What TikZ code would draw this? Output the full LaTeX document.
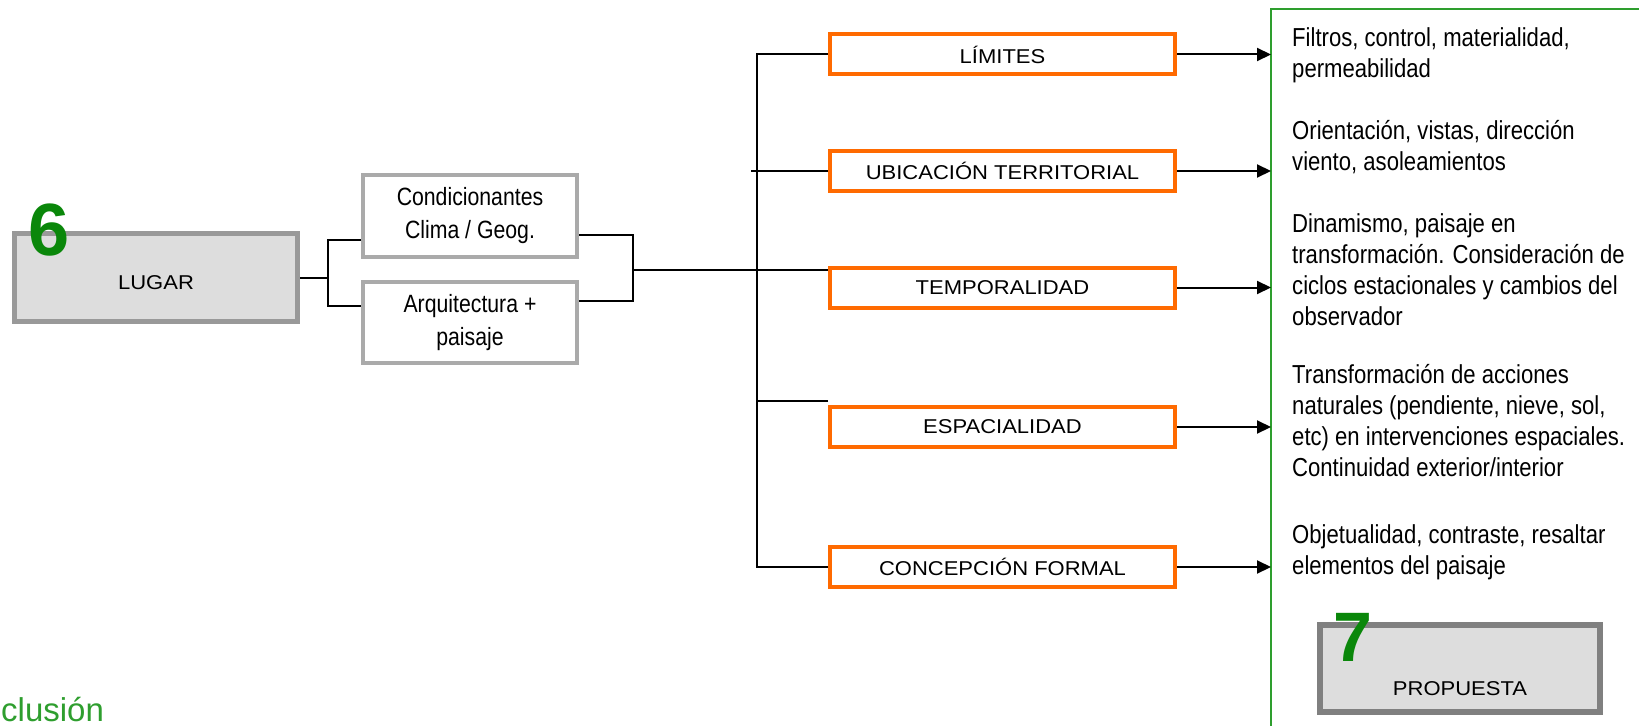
\documentclass[tikz,border=0pt]{standalone}
\usepackage{fontspec}
\setmainfont{Liberation Sans}
\newfontfamily\narrowfont[FakeStretch=0.85]{Liberation Sans}
\newfontfamily\widefont[FakeStretch=1.1]{Liberation Sans}
\usetikzlibrary{arrows.meta}

\definecolor{boxfill}{HTML}{DDDDDD}
\definecolor{lugarline}{HTML}{999999}
\definecolor{propline}{HTML}{808080}
\definecolor{condline}{HTML}{AAAAAA}
\definecolor{critorange}{HTML}{FF6A00}
\definecolor{numgreen}{HTML}{0A870A}
\definecolor{framegreen}{HTML}{2E9E2E}

\tikzset{
  conn/.style={line width=2bp},
  arr/.style={line width=2bp,-{Triangle[length=14bp,width=13bp]}},
  critbox/.style={draw=critorange,line width=4bp,fill=white,minimum width=345bp,minimum height=40bp,inner sep=0pt,font=\widefont\fontsize{20bp}{24bp}\selectfont},
  condbox/.style={draw=condline,line width=4bp,fill=white,minimum width=214bp,inner sep=0pt,align=center,font=\narrowfont\fontsize{25bp}{33bp}\selectfont},
  desc/.style={anchor=north west,inner sep=0pt,align=left,font=\narrowfont\fontsize{26bp}{31bp}\selectfont},
  num/.style={inner sep=0pt,text=numgreen,font=\bfseries\fontsize{74bp}{74bp}\selectfont}
}

\begin{document}
\begin{tikzpicture}[x=1bp,y=-1bp]
  \useasboundingbox (0,0) rectangle (1639,726);
  % lugar
  \node[draw=lugarline,line width=5bp,fill=boxfill,minimum width=283bp,minimum height=88bp,inner sep=0pt,text height=25bp,font=\widefont\fontsize{20bp}{24bp}\selectfont] (lugar) at (156,277.5) {LUGAR};
  \node[num] (N-6) at (49.5,230) {6};
  \node[condbox,minimum height=82bp] (cond) at (470,216) {Condicionantes\\Clima / Geog.};
  \node[condbox,minimum height=81bp] (arq) at (470,322.5) {Arquitectura +\\paisaje};
  % criterios
  \node[critbox] (C-1) at (1002.5,54.5) {LÍMITES};
  \node[critbox] (C-2) at (1002.5,171) {UBICACIÓN TERRITORIAL};
  \node[critbox] (C-3) at (1002.5,287.5) {TEMPORALIDAD};
  \node[critbox] (C-4) at (1002.5,427) {ESPACIALIDAD};
  \node[critbox] (C-5) at (1002.5,567) {CONCEPCIÓN FORMAL};
  % propuesta
  \draw[framegreen,line width=2bp] (1641,9) -| (1271,728);
  \coordinate (frame) at (1271,9);
  \node[desc] (D-1) at (1292,27) {Filtros, control, materialidad,\\permeabilidad};
  \node[desc] (D-2) at (1292,120) {Orientación, vistas, dirección\\viento, asoleamientos};
  \node[desc] (D-3) at (1292,213) {Dinamismo, paisaje en\\transformación. Consideración de\\ciclos estacionales y cambios del\\observador};
  \node[desc] (D-4) at (1292,364) {Transformación de acciones\\naturales (pendiente, nieve, sol,\\etc) en intervenciones espaciales.\\Continuidad exterior/interior};
  \node[desc] (D-5) at (1292,524) {Objetualidad, contraste, resaltar\\elementos del paisaje};
  \node[draw=propline,line width=6bp,fill=boxfill,minimum width=280bp,minimum height=87bp,inner sep=0pt,text height=55bp,font=\widefont\fontsize{20bp}{24bp}\selectfont] (prop) at (1460,668.5) {PROPUESTA};
  \node[num,font=\bfseries\fontsize{70bp}{70bp}\selectfont] (N-7) at (1353,637) {7};
  \node[anchor=base west,inner sep=0pt,text=framegreen,font=\fontsize{33bp}{40bp}\selectfont] (concl) at (1,721) {clusión};
  % conexiones
  \coordinate (j1a) at (328,240);
  \coordinate (j1b) at (328,306);
  \coordinate (j2a) at (633,235);
  \coordinate (j2b) at (633,301);
  \coordinate (j2) at (633,270);
  \coordinate (trunk) at (757,0);
  \coordinate (e4) at ([yshift=4bp]C-4.north west);
  \draw[conn] (lugar.east) -- (lugar.east -| j1a);
  \draw[conn] (cond.west |- j1a) -- (j1a) -- (j1b) -- (arq.west |- j1b);
  \draw[conn] (cond.east |- j2a) -- (j2a) -- (j2b) -- (arq.east |- j2b);
  \draw[conn] (j2) -- (j2 -| C-3.west);
  \draw[conn] (C-1.west) -| (C-5.west -| trunk) -- (C-5.west);
  \draw[conn] (C-2.west) -- ++(-77,0);
  \draw[conn] (e4) -- (e4 -| trunk);
  \draw[arr] (C-1.east) -- (C-1.east -| frame);
  \draw[arr] (C-2.east) -- (C-2.east -| frame);
  \draw[arr] (C-3.east) -- (C-3.east -| frame);
  \draw[arr] (C-4.east) -- (C-4.east -| frame);
  \draw[arr] (C-5.east) -- (C-5.east -| frame);
\end{tikzpicture}
\end{document}
